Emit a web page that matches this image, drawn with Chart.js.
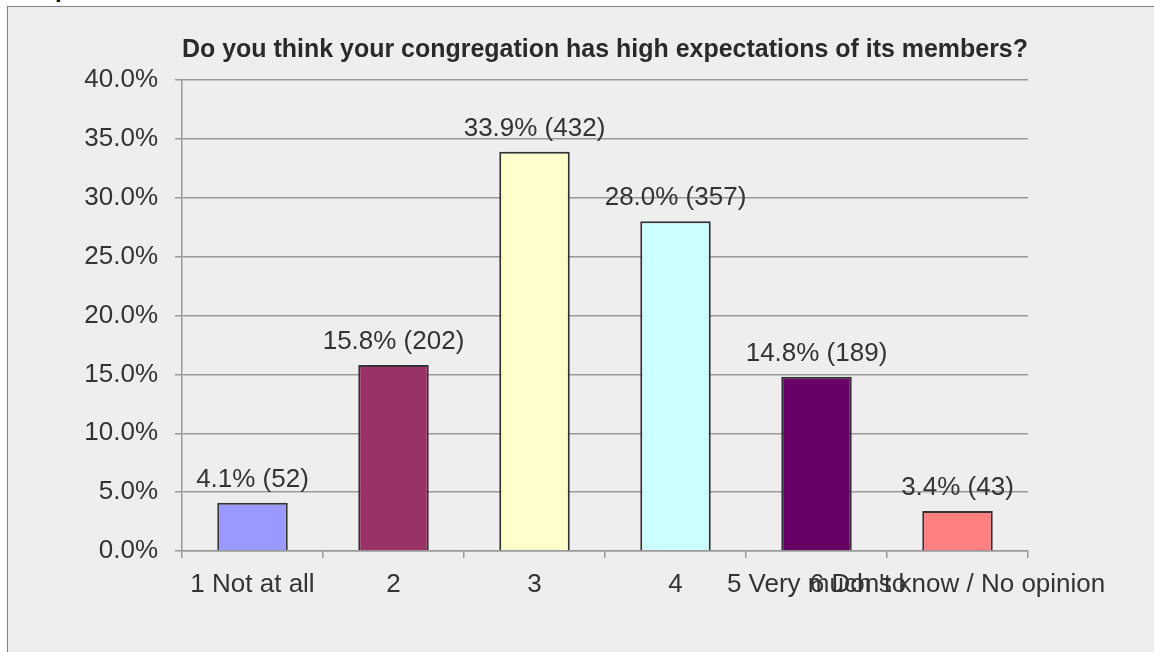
<!DOCTYPE html>
<html>
<head>
<meta charset="utf-8">
<script src="https://cdn.jsdelivr.net/npm/chart.js@4"></script>
<style>
body { margin: 0; background: #fff; overflow: hidden; width: 1154px; height: 652px; position: relative; font-family: "Liberation Sans", Arial, sans-serif; }
#frame { position: absolute; left: 7px; top: 6px; width: 1200px; height: 700px; border-left: 1px solid #808080; border-top: 1px solid #808080; background: #eeeeee; }
#cut { position: absolute; left: 55px; top: -26px; font: bold 24px "Liberation Sans", Arial, sans-serif; color: #000; z-index: 2; line-height: 30px; }
canvas { position: absolute; left: 0; top: 0; }
</style>
</head>
<body>
<div id="cut">p</div>
<div id="frame"><canvas id="myChart" width="1146" height="645"></canvas></div>
<script>
const categories = ['1 Not at all', '2', '3', '4', '5 Very much so', "6 Don't know / No opinion"];
const percents = [4.1, 15.8, 33.9, 28.0, 14.8, 3.4];
const counts = [52, 202, 432, 357, 189, 43];
const barColors = ['#9999ff', '#993366', '#ffffcc', '#ccffff', '#660066', '#ff8080'];
const yTicks = [0, 5, 10, 15, 20, 25, 30, 35, 40];

const fontFamily = '"Liberation Sans", Arial, sans-serif';

// value + count above each bar
const valueLabels = {
    id: 'valueLabels',
    afterDatasetsDraw(chart) {
        const ctx = chart.ctx;
        const meta = chart.getDatasetMeta(0);
        ctx.save();
        ctx.font = '26px ' + fontFamily;
        ctx.fillStyle = '#333333';
        ctx.textAlign = 'center';
        ctx.textBaseline = 'alphabetic';
        meta.data.forEach(function(bar, i) {
            ctx.fillText(percents[i].toFixed(1) + '% (' + counts[i] + ')', bar.x, bar.y - 16);
        });
        ctx.restore();
    }
};

var ctx = document.getElementById('myChart');
var myChart = new Chart(ctx, {
    type: 'bar',
    data: {
        labels: categories,
        datasets: [{
            data: percents,
            backgroundColor: barColors,
            borderColor: '#333333',
            borderWidth: 2,
            barPercentage: 0.5,
            categoryPercentage: 1.0
        }]
    },
    plugins: [valueLabels],
    options: {
        responsive: false,
        animation: false,
        layout: { padding: { left: 0, right: 126, top: 0, bottom: 0 } },
        plugins: {
            legend: { display: false },
            tooltip: { enabled: false },
            title: {
                display: true,
                fullSize: false,
                text: 'Do you think your congregation has high expectations of its members?',
                color: '#2a2a2a',
                font: { family: fontFamily, size: 25, weight: 'bold' },
                padding: { top: 28, bottom: 15 }
            }
        },
        scales: {
            x: {
                afterFit: function(s) { s.height = 101; },
                grid: { offset: true, drawOnChartArea: false, drawTicks: true, tickLength: 7, color: '#999999', lineWidth: 1.5 },
                border: { display: true, color: '#999999', width: 1.5 },
                ticks: {
                    autoSkip: false, maxRotation: 0, minRotation: 0, padding: 11,
                    color: '#333333',
                    font: { family: fontFamily, size: 26 }
                }
            },
            y: {
                min: yTicks[0],
                max: yTicks[yTicks.length - 1],
                afterFit: function(s) { s.width = 174; },
                afterBuildTicks: function(s) { s.ticks = yTicks.map(function(v) { return { value: v }; }); },
                grid: { color: '#999999', lineWidth: 1.5, tickLength: 7 },
                border: { display: true, color: '#999999', width: 1.5 },
                ticks: {
                    padding: 17,
                    color: '#333333',
                    font: { family: fontFamily, size: 26 },
                    callback: function(v) { return v.toFixed(1) + '%'; }
                }
            }
        }
    }
});
</script>
</body>
</html>
